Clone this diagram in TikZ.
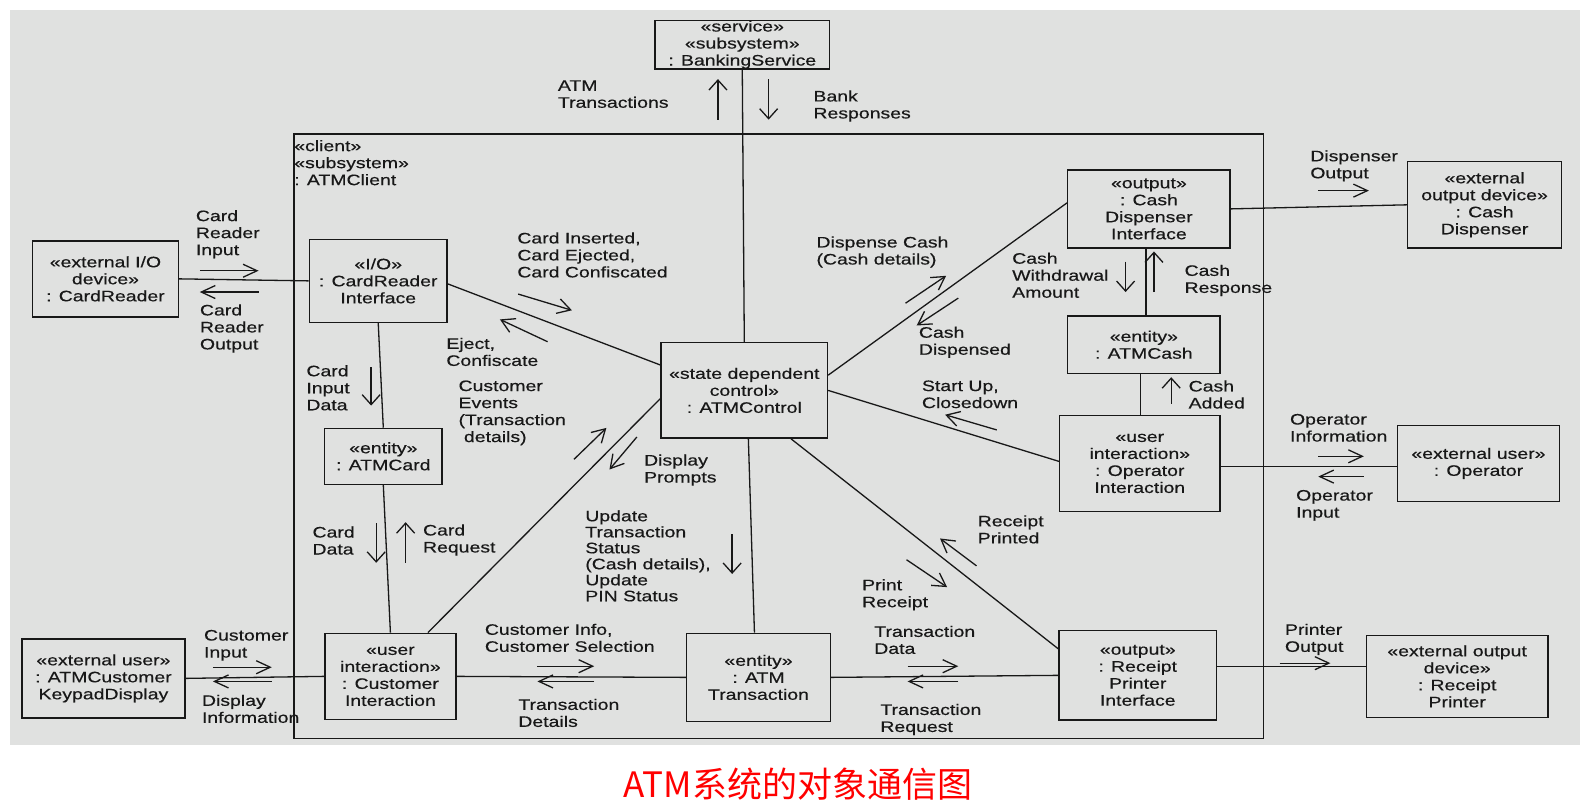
\documentclass[tikz,border=0pt]{standalone}
\usepackage{fontspec}
\setmainfont{Liberation Sans}[FakeStretch=1.28,FakeBold=0.4]
\newfontfamily\cjk{Noto Sans CJK SC}
\usetikzlibrary{arrows.meta,calc}
\definecolor{bg}{RGB}{224,225,224}
\definecolor{ink}{RGB}{24,24,24}
\definecolor{capred}{RGB}{255,0,0}
\tikzset{
  obj/.style 2 args={draw=ink, line width=1.4pt, align=center, inner sep=0pt,
    minimum width=#1*1.014pt, minimum height=#2*1.014pt, text=ink},
  link/.style={draw=ink, line width=1.3pt},
  harr/.style={draw=ink, line width=1.3pt, -{Straight Barb[length=14pt,width=13pt,line width=1.3pt]}},
  varr/.style={draw=ink, line width=1.3pt, -{Straight Barb[length=10pt,width=18pt,line width=1.3pt]}},
  darr/.style={draw=ink, line width=1.3pt, -{Straight Barb[length=13pt,width=15pt,line width=1.3pt]}},
  lbl/.style={anchor=north west, align=left, inner sep=0pt, text=ink},
}
\begin{document}
\begin{tikzpicture}[x=1.014pt, y=-1.014pt, font=\fontsize{15.2}{17}\selectfont]
\useasboundingbox (0,0) rectangle (1568,798);
\fill[bg] (10,10) rectangle (1558,735);

% containers and objects
\node[obj={956}{596}] (client) at (768,430) {};
\node[obj={172}{48}] (bank) at (732,44) {«service»\\«subsystem»\\: BankingService};
\node[obj={144}{75}] (cr) at (104,275) {«external I/O\\device»\\: CardReader};
\node[obj={136}{82}] (cri) at (373,277) {«I/O»\\: CardReader\\Interface};
\node[obj={116}{55}] (card) at (378,450) {«entity»\\: ATMCard};
\node[obj={129}{85}] (cust) at (385,667) {«user\\interaction»\\: Customer\\Interaction};
\node[obj={161}{78}] (kp) at (102,669) {«external user»\\: ATMCustomer\\KeypadDisplay};
\node[obj={164}{94}] (ctrl) at (734,385) {«state dependent\\control»\\: ATMControl};
\node[obj={142}{87}] (trans) at (748,668) {«entity»\\: ATM\\Transaction};
\node[obj={155}{88}] (rpi) at (1122,666) {«output»\\: Receipt\\Printer\\Interface};
\node[obj={179}{81}] (rp) at (1437,667) {«external output\\device»\\: Receipt\\Printer};
\node[obj={160}{77}] (cdi) at (1133,206) {«output»\\: Cash\\Dispenser\\Interface};
\node[obj={152}{85}] (cd) at (1464,202) {«external\\output device»\\: Cash\\Dispenser};
\node[obj={150}{57}] (cash) at (1128,340) {«entity»\\: ATMCash};
\node[obj={158}{95}] (opi) at (1124,457) {«user\\interaction»\\: Operator\\Interaction};
\node[obj={160}{75}] (op) at (1458,457) {«external user»\\: Operator};

% links
\draw[link] (bank.south) -- (ctrl.north);
\draw[link] (cr.east) -- (cri.west);
\draw[link] ($(cri.east)+(0,3)$) -- ($(ctrl.west)+(0,-25)$);
\draw[link] (cri.south) -- (card.north);
\draw[link] (card.south) -- (cust.north);
\draw[link] ($(cust.north)+(37,0)$) -- ($(ctrl.west)+(0,8)$);
\draw[link] (kp.east) -- (cust.west);
\draw[link] (cust.east) -- (trans.west);
\draw[link] ($(ctrl.south)+(4,0)$) -- ($(trans.north)+(-4,0)$);
\draw[link] ($(ctrl.south)+(46,0)$) -- ($(rpi.west)+(0,-26)$);
\draw[link] (trans.east) -- (rpi.west);
\draw[link] ($(ctrl.east)+(0,-15)$) -- ($(cdi.west)+(0,-6)$);
\draw[link] (ctrl.east) -- ($(opi.west)+(0,-2)$);
\draw[link] ($(cdi.south)+(-3,0)$) -- ($(cash.north)+(2,0)$);
\draw[link] ($(cash.south)+(-3,0)$) -- ($(opi.north)+(1,0)$);
\draw[link] (cdi.east) -- (cd.west);
\draw[link] ($(opi.east)+(0,3)$) -- ($(op.west)+(0,3)$);
\draw[link] ($(rpi.east)+(0,-9)$) -- ($(rp.west)+(0,-10)$);

% message arrows
\draw[varr] (708,118) -- (708,78);
\draw[varr] (758,78) -- (758,118);
\draw[harr] (197,267) -- (255,267);
\draw[harr] (255,288) -- (197,288);
\draw[darr] (511,290) -- (564,306);
\draw[darr] (540,337) -- (493,315);
\draw[varr] (366,362) -- (366,400);
\draw[darr] (566,453) -- (598,422);
\draw[darr] (628,431) -- (601,463);
\draw[varr] (371,516) -- (371,555);
\draw[varr] (400,555) -- (400,515);
\draw[harr] (210,658) -- (268,658);
\draw[harr] (268,672) -- (210,672);
\draw[harr] (530,657) -- (586,657);
\draw[harr] (586,672) -- (530,672);
\draw[varr] (722,527) -- (722,566);
\draw[darr] (893,299) -- (933,272);
\draw[darr] (945,294) -- (904,321);
\draw[darr] (983,424) -- (932,409);
\draw[varr] (1110,258) -- (1110,288);
\draw[varr] (1138,288) -- (1138,248);
\draw[varr] (1155,398) -- (1155,372);
\draw[harr] (1300,450) -- (1345,450);
\draw[harr] (1345,470) -- (1300,470);
\draw[harr] (1300,188) -- (1350,188);
\draw[harr] (1262,654) -- (1312,654);
\draw[darr] (963,558) -- (927,531);
\draw[darr] (894,552) -- (934,579);
\draw[harr] (895,657) -- (945,657);
\draw[harr] (945,672) -- (895,672);

% labels
\node[lbl] (l1) at (550,79) {ATM\\Transactions};
\node[lbl] (l2) at (802,89) {Bank\\Responses};
\node[lbl] (l3) at (290,138) {«client»\\«subsystem»\\: ATMClient};
\node[lbl] (l4) at (193,207) {Card\\Reader\\Input};
\node[lbl] (l5) at (197,300) {Card\\Reader\\Output};
\node[lbl] (l6) at (510,229) {Card Inserted,\\Card Ejected,\\Card Confiscated};
\node[lbl] (l7) at (440,333) {Eject,\\Confiscate};
\node[lbl] (l8) at (302,360) {Card\\Input\\Data};
\node[lbl] (l9) at (452,375) {Customer\\Events\\(Transaction\\\ details)};
\node[lbl] (l10) at (635,448) {Display\\Prompts};
\node[lbl] (l11) at (308,519) {Card\\Data};
\node[lbl] (l12) at (417,517) {Card\\Request};
\node[lbl] (l13) at (201,621) {Customer\\Input};
\node[lbl] (l14) at (199,685) {Display\\Information};
\node[lbl] (l15) at (478,615) {Customer Info,\\Customer Selection};
\node[lbl] (l16) at (511,689) {Transaction\\Details};
\node[lbl, font=\fontsize{15.2}{16}\selectfont] (l17) at (577,503) {Update\\Transaction\\Status\\(Cash details),\\Update\\PIN Status};
\node[lbl] (l18) at (805,233) {Dispense Cash\\(Cash details)};
\node[lbl] (l19) at (906,322) {Cash\\Dispensed};
\node[lbl] (l20) at (998,249) {Cash\\Withdrawal\\Amount};
\node[lbl] (l21) at (1168,261) {Cash\\Response};
\node[lbl] (l22) at (909,375) {Start Up,\\Closedown};
\node[lbl] (l23) at (1172,375) {Cash\\Added};
\node[lbl] (l24) at (1272,408) {Operator\\Information};
\node[lbl] (l25) at (1278,483) {Operator\\Input};
\node[lbl] (l26) at (1292,148) {Dispenser\\Output};
\node[lbl] (l27) at (1267,615) {Printer\\Output};
\node[lbl] (l28) at (964,508) {Receipt\\Printed};
\node[lbl] (l29) at (850,571) {Print\\Receipt};
\node[lbl] (l30) at (862,617) {Transaction\\Data};
\node[lbl] (l31) at (868,694) {Transaction\\Request};

% caption
\node[text=capred, inner sep=0pt, font=\cjk\fontsize{35}{35}\selectfont] (cap) at (787,773) {ATM系统的对象通信图};
\end{tikzpicture}
\end{document}
